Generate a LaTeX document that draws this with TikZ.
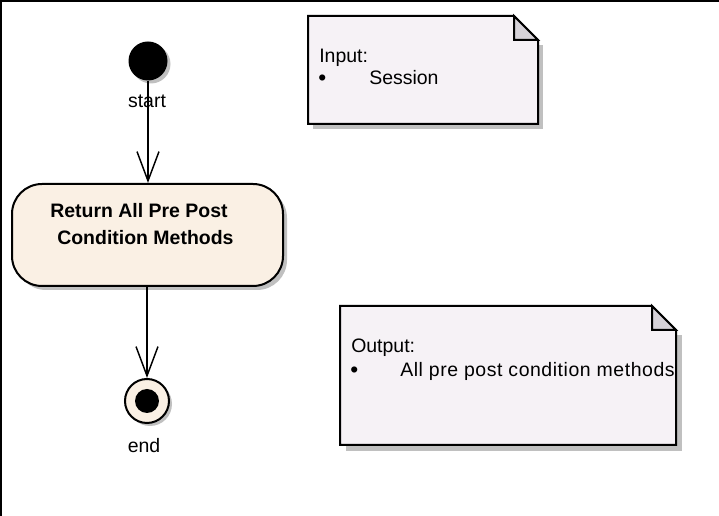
\documentclass[tikz,border=0pt]{standalone}
\usepackage{fontspec}
\setmainfont{Liberation Sans}
\usetikzlibrary{arrows.meta,shadows}
\definecolor{notefill}{RGB}{246,242,246}
\definecolor{foldfill}{RGB}{214,210,216}
\definecolor{actfill}{RGB}{250,240,228}
\definecolor{shadowgray}{RGB}{192,192,192}
\tikzset{
  txt/.style={inner sep=0pt, anchor=base west, font=\fontsize{14.6}{17.5}\selectfont},
  lbl/.style={inner sep=0pt, anchor=base, font=\fontsize{14.6}{17.5}\selectfont},
  bold/.style={txt, font=\fontsize{14.6}{17.5}\selectfont\bfseries},
  edgeline/.style={line width=1.1pt, -{Straight Barb[length=22pt,width=16.5pt,line width=1.1pt]}},
  notebody/.style={draw=black, line width=1.5pt, fill=notefill, line join=miter},
  notefold/.style={draw=black, line width=1.5pt, fill=foldfill},
  noteshadow/.style={fill=shadowgray},
  actbox/.style={draw=black, line width=1.5pt, fill=actfill, rounded corners=22.5pt,
    minimum width=203.25pt, minimum height=76.5pt, inner sep=0pt},
  initnode/.style={circle, fill=black, minimum size=29.25pt, inner sep=0pt},
  finalnode/.style={circle, draw=black, line width=1.5pt, fill=actfill, minimum size=33pt, inner sep=0pt},
}
\begin{document}
\begin{tikzpicture}[x=0.75pt,y=-0.75pt]
\useasboundingbox (0,0) rectangle (719,516);
% frame (top and left edges)
\draw[line width=1.2pt] (0.8,516) -- (0.8,0.8) -- (719,0.8);

% start
\fill[shadowgray] (151,64) circle (19.5);
\node[initnode] (start) at (148,61) {};
\node[lbl] (startlbl) at (147,108) {start};

% action
\fill[shadowgray, rounded corners=22.5pt] (16,188) rectangle (287,290);
\node[actbox] (act) at (147.5,235) {};
\node[bold] (acttext1) at (50,218) {Return All Pre Post};
\node[bold] (acttext2) at (57,245) {Condition Methods};

% end
\fill[shadowgray] (150,404) circle (22);
\node[finalnode] (end) at (147,401) {};
\fill[black] (end.center) circle (12);
\node[lbl] (endlbl) at (144,453) {end};

% connectors
\draw[edgeline] (start) -- (start |- act.north);
\draw[edgeline] (act.south -| end) -- (end.north);

% note 1 (Input)
\fill[noteshadow] (313,45) -- (543,45) -- (543,129) -- (313,129) -- cycle;
\draw[notebody] (308,16) -- (514,16) -- (538,40) -- (538,124) -- (308,124) -- cycle;
\draw[notefold] (514,16) -- (514,40) -- (538,40) -- cycle;
\node[txt] (in1) at (319,63) {Input:};
\node[txt, font=\fontsize{17}{17.5}\selectfont] (in2) at (318,86) {•};
\node[txt] (in3) at (369,85) {Session};

% note 2 (Output)
\fill[noteshadow] (346,335) -- (682,335) -- (682,451) -- (346,451) -- cycle;
\draw[notebody] (340,306) -- (652,306) -- (676,330) -- (676,445) -- (340,445) -- cycle;
\draw[notefold] (652,306) -- (652,330) -- (676,330) -- cycle;
\node[txt] (out1) at (351,353) {Output:};
\node[txt, font=\fontsize{17}{17.5}\selectfont] (out2) at (350,378) {•};
\node[txt, font=\fontsize{14.6}{17.5}\selectfont\addfontfeatures{LetterSpace=2.8}] (out3) at (400,377) {All pre post condition methods};
\end{tikzpicture}
\end{document}
